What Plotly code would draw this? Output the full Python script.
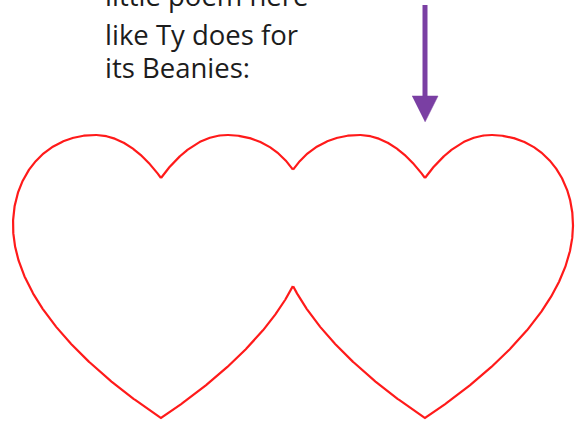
import numpy as np
import plotly.graph_objects as go

W, H = 576, 422

# ---- data -------------------------------------------------------------
heart_centers_x = [161, 425]          # x of cusp / tip of each heart
heart_top_y = 135                     # top of the lobes
# half-heart outline as cubic Bezier segments (dx, dy) relative to cusp axis / top
seg_cusp_to_top = [(0, 43), (15, 22), (38, 0), (66, 0)]
seg_top_to_side = [(66, 0), (115, 0), (148, 40), (148, 90)]
seg_side_to_tip = [(148, 90), (148, 160), (80, 230), (0, 283)]

text_lines = ["little poem here", "like Ty does for", "its Beanies:"]
text_baselines = [7, 46, 79]
text_x = 104

arrow_x = 425
arrow_y_start = 5
arrow_y_tip = 122
arrow_head_len = 26
arrow_head_half_w = 13

heart_color = "#ff1a1a"
arrow_color = "#7a3fa3"
text_color = "#1c1c1c"


# ---- helpers ----------------------------------------------------------
def bezier(pts, n=400):
    p = np.array(pts, dtype=float)
    t = np.linspace(0, 1, n)[:, None]
    return ((1 - t) ** 3 * p[0] + 3 * (1 - t) ** 2 * t * p[1]
            + 3 * (1 - t) * t ** 2 * p[2] + t ** 3 * p[3])


half = np.vstack([bezier(seg_cusp_to_top), bezier(seg_top_to_side)[1:],
                  bezier(seg_side_to_tip)[1:]])


def heart(cx):
    right = half.copy()
    left = half[::-1].copy()
    left[:, 0] *= -1
    pts = np.vstack([right, left[1:]])
    pts[:, 0] += cx
    pts[:, 1] += heart_top_y
    return pts


def inside(px, py, poly):
    x, y = poly[:, 0], poly[:, 1]
    x2, y2 = np.roll(x, -1), np.roll(y, -1)
    res = np.zeros(len(px), dtype=bool)
    for i in range(len(x)):
        cond = ((y[i] > py) != (y2[i] > py))
        with np.errstate(divide="ignore", invalid="ignore"):
            xint = (x2[i] - x[i]) * (py - y[i]) / (y2[i] - y[i]) + x[i]
        res ^= cond & (px < xint)
    return res


hearts = [heart(cx) for cx in heart_centers_x]

fig = go.Figure()
for i, h in enumerate(hearts):
    other = hearts[1 - i]
    mask = inside(h[:, 0], h[:, 1], other)
    xs = np.where(mask, np.nan, h[:, 0])
    ys = np.where(mask, np.nan, h[:, 1])
    fig.add_trace(go.Scatter(x=xs, y=ys, mode="lines", connectgaps=False,
                             line=dict(color=heart_color, width=2.2),
                             cliponaxis=False,
                             hoverinfo="skip", showlegend=False))

# arrow shaft
fig.add_trace(go.Scatter(x=[arrow_x, arrow_x],
                         y=[arrow_y_start, arrow_y_tip - arrow_head_len + 2],
                         mode="lines", line=dict(color=arrow_color, width=5),
                         cliponaxis=False,
                         hoverinfo="skip", showlegend=False))
# arrow head
fig.add_trace(go.Scatter(
    x=[arrow_x - arrow_head_half_w, arrow_x + arrow_head_half_w, arrow_x],
    y=[arrow_y_tip - arrow_head_len, arrow_y_tip - arrow_head_len, arrow_y_tip],
    mode="lines", fill="toself", fillcolor=arrow_color,
    line=dict(color=arrow_color, width=0.5),
    hoverinfo="skip", showlegend=False))

TEXT_ANCHOR_OFFSET = 20   # keep anchor inside the axis range, shift back in px
for line, base in zip(text_lines, text_baselines):
    fig.add_annotation(x=text_x, y=base + TEXT_ANCHOR_OFFSET, xref="x", yref="y",
                       text=line, showarrow=False, xanchor="left",
                       yanchor="bottom", yshift=TEXT_ANCHOR_OFFSET - 8,
                       borderpad=0,
                       font=dict(family="Open Sans", size=27.5, color=text_color))

fig.update_layout(width=W, height=H,
                  margin=dict(l=0, r=0, t=0, b=0),
                  paper_bgcolor="white", plot_bgcolor="white",
                  hovermode=False,
                  xaxis=dict(range=[0, W], visible=False, fixedrange=True),
                  yaxis=dict(range=[H, 0], visible=False, fixedrange=True))
fig.write_html("out.html",
               config={"displayModeBar": False, "staticPlot": True},
               post_script="document.body.style.margin='0';"
                           "document.body.style.overflow='hidden';")
